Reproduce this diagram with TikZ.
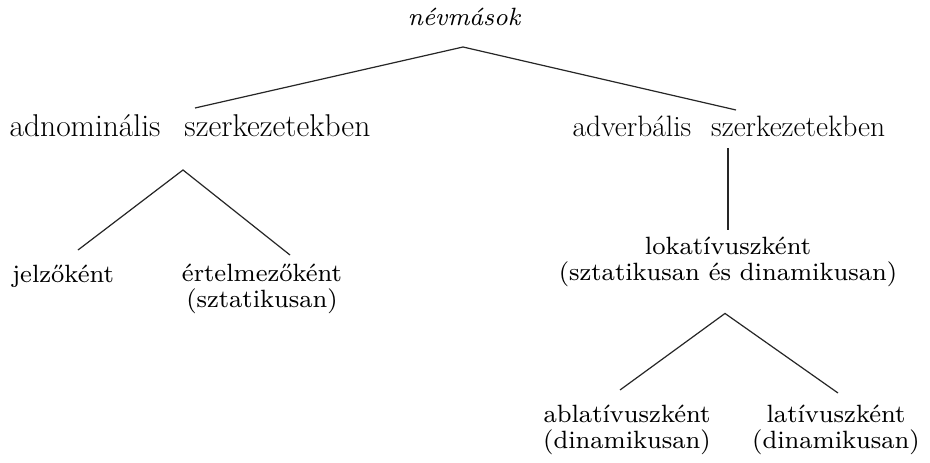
\documentclass[tikz,border=0pt]{standalone}
\usepackage{fontspec}
\setmainfont{lmroman8-regular.otf}[ItalicFont=lmroman8-italic.otf]
\newfontfamily\condfont{Latin Modern Roman}
\begin{document}
\begin{tikzpicture}[x=1pt,y=-1pt,
  lbl/.style={inner sep=0pt,anchor=base,font=\fontsize{25}{26}\selectfont,align=center},
  big/.style={inner sep=0pt,anchor=base},
  conn/.style={line width=1.2pt,black!85}]
\fill[white] (0,0) rectangle (930,463);
\useasboundingbox (0,0) rectangle (930,463);
\node[lbl] (nev) at (464,25) {\itshape névmások};
\node[big,font=\condfont\fontsize{31.5}{32}\selectfont] (adn) at (190,136) {adnominális\hspace{24pt}szerkezetekben};
\node[big,font=\condfont\fontsize{29.5}{30}\selectfont] (adv) at (729,136) {adverbális\hspace{20pt}szerkezetekben};
\node[lbl] (jel) at (63,282) {jelzőként};
\node[lbl] (ert) at (262,307) {értelmezőként\\(sztatikusan)};
\node[lbl] (lok) at (728,280) {lokatívuszként\\(sztatikusan és dinamikusan)};
\node[lbl] (abl) at (627,448) {ablatívuszként\\(dinamikusan)};
\node[lbl] (lat) at (836,448) {latívuszként\\(dinamikusan)};
\draw[conn] ([xshift=5pt,yshift=28pt]adn.base) -- ([xshift=-1pt,yshift=-22pt]nev.base) -- ([xshift=7pt,yshift=26pt]adv.base);
\draw[conn] ([xshift=15pt,yshift=32pt]jel.base) -- ([xshift=-7pt,yshift=-34pt]adn.base) -- ([xshift=28pt,yshift=52pt]ert.base);
\draw[conn] ([xshift=-1pt,yshift=-12pt]adv.base) -- ([yshift=6pt]lok.north);
\draw[conn] ([xshift=-7pt,yshift=58pt]abl.base) -- ([xshift=-3pt,yshift=-27pt]lok.south) -- ([xshift=2pt,yshift=55pt]lat.base);
\end{tikzpicture}
\end{document}
